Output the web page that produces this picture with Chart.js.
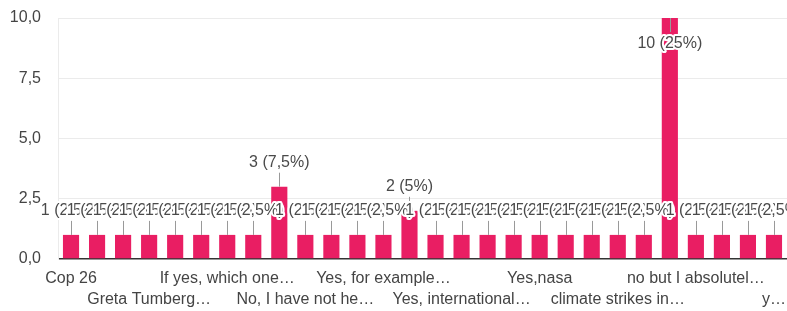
<!DOCTYPE html>
<html>
<head>
<meta charset="utf-8">
<script src="https://cdn.jsdelivr.net/npm/chart.js@4"></script>
<style>
  html, body { margin: 0; padding: 0; background: #fff; }
  #wrap { width: 787px; height: 311px; }
</style>
</head>
<body>
<div id="wrap"><canvas id="chart"></canvas></div>
<script>
const answers = [
  "Cop 26", "David Attenborough", "Extinction Rebellion", "Greta Tumberg…",
  "Greta thunberg", "I don't know", "If yes, which one…", "Leonardo DiCaprio",
  "No", "No, I have not he…", "No, not really", "Not sure",
  "Yes, for example…", "Yes, greta thunberg", "Yes, i have", "Yes, international…",
  "Yes, the Paris agreement", "Yes, the cop 26", "Yes,nasa", "a lot of protests",
  "because of the news", "climate strikes in…", "greta", "no",
  "no but I absolutel…", "not really", "the paris agreement", "y…"
];
const counts = [
  1, 1, 1, 1, 1, 1, 1, 1,
  3, 1, 1, 1, 1, 2, 1, 1,
  1, 1, 1, 1, 1, 1, 1, 10,
  1, 1, 1, 1
];
const yTicks = [0, 2.5, 5, 7.5, 10];

const total = counts.reduce((a, b) => a + b, 0);
const pink = "#e91e63";
const font = "Arial, 'Liberation Sans', sans-serif";

function comma(v, digits) {
  return (digits == null ? String(+v.toFixed(1)) : v.toFixed(digits)).replace(".", ",");
}

// value labels with stems, white halo like google charts
const annotate = {
  id: "annotate",
  afterDatasetsDraw(chart) {
    const ctx = chart.ctx;
    const area = chart.chartArea;
    const bars = chart.getDatasetMeta(0).data;
    const spots = bars.map((b, i) => {
      const inside = b.y - 32 < area.top;
      return {
        x: b.x,
        y0: b.y,
        y1: inside ? b.y + 14 : b.y - 14,
        ty: inside ? b.y + 26 : b.y - 24,
        text: counts[i] + " (" + comma(counts[i] / total * 100) + "%)"
      };
    });
    ctx.save();
    ctx.strokeStyle = "#999";
    ctx.lineWidth = 1;
    spots.forEach(s => {
      ctx.beginPath();
      ctx.moveTo(Math.round(s.x) + 0.5, s.y0);
      ctx.lineTo(Math.round(s.x) + 0.5, s.y1);
      ctx.stroke();
    });
    ctx.font = "16px " + font;
    ctx.textAlign = "center";
    ctx.textBaseline = "middle";
    ctx.lineJoin = "round";
    spots.forEach(s => {
      ctx.strokeStyle = "#fff";
      ctx.lineWidth = 4;
      ctx.strokeText(s.text, s.x, s.ty);
      ctx.fillStyle = "#4a4a4a";
      ctx.fillText(s.text, s.x, s.ty);
    });
    ctx.restore();
  }
};

new Chart(document.getElementById("chart"), {
  type: "bar",
  data: {
    labels: answers,
    datasets: [{
      data: counts,
      backgroundColor: pink,
      barPercentage: 0.62,
      categoryPercentage: 1
    }]
  },
  options: {
    responsive: true,
    maintainAspectRatio: false,
    animation: false,
    layout: { padding: { top: 18, right: 0, left: 0, bottom: 0 } },
    plugins: { legend: { display: false }, tooltip: { enabled: false } },
    scales: {
      x: {
        grid: { display: false },
        border: { display: false },
        afterFit(scale) { scale.height = 52; },
        ticks: {
          autoSkip: false,
          maxRotation: 0,
          minRotation: 0,
          padding: 1,
          color: "#444",
          font: { family: font, size: 16, lineHeight: 1.3 },
          callback(v, i) {
            if (i % 3 !== 0) return "";
            return (i / 3) % 2 === 0 ? answers[i] : ["", answers[i]];
          }
        }
      },
      y: {
        min: 0,
        max: 10,
        afterFit(scale) {
          scale.width = 58;
          scale.paddingTop = 0;
          scale.paddingBottom = 0;
        },
        afterBuildTicks(scale) { scale.ticks = yTicks.map(v => ({ value: v })); },
        border: { display: true, color: "#ebebeb" },
        grid: {
          drawTicks: false,
          color: c => c.tick && c.tick.value === 0 ? "#333" : "#ebebeb",
          lineWidth: c => c.tick && c.tick.value === 0 ? 1.5 : 1
        },
        ticks: {
          padding: 17,
          color: "#444",
          font: { family: font, size: 16 },
          callback: v => comma(v, 1)
        }
      }
    }
  },
  plugins: [annotate]
});
</script>
</body>
</html>
